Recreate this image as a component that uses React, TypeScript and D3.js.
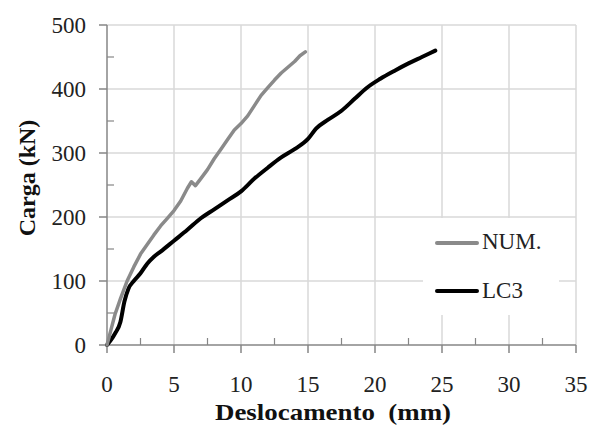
import React from "react";
import * as d3 from "d3";

const numX = [0, 0.3, 0.6, 1.0, 1.5, 2.0, 2.5, 3.0, 3.5, 4.0, 4.5, 5.0, 5.5, 6.0, 6.3, 6.6, 7.0, 7.5, 8.0, 8.5, 9.0, 9.5, 10.0, 10.5, 11.0, 11.5, 12.0, 12.5, 13.0, 13.5, 14.0, 14.4, 14.8];
const numY = [0, 24, 48, 72, 100, 122, 142, 157, 172, 186, 198, 210, 225, 245, 255, 249, 260, 274, 291, 306, 321, 336, 346, 358, 374, 390, 402, 414, 425, 434, 443, 452, 458];

const lc3X = [0, 0.3, 0.6, 1.0, 1.3, 1.6, 2.0, 2.5, 3.0, 3.5, 4.0, 5.0, 6.0, 7.0, 8.0, 9.0, 10.0, 11.0, 12.0, 13.0, 14.0, 15.0, 15.6, 16.5, 17.5, 18.5, 19.4, 20.4, 21.5, 22.5, 23.5, 24.5];
const lc3Y = [0, 8, 18, 36, 68, 88, 100, 112, 127, 138, 146, 163, 180, 198, 212, 226, 240, 260, 277, 293, 306, 322, 338, 352, 366, 385, 402, 416, 429, 440, 450, 460];

const xTicks = [0, 5, 10, 15, 20, 25, 30, 35];
const xMinor = [2.5, 7.5, 12.5, 17.5, 22.5, 27.5, 32.5];
const yTicks = [0, 100, 200, 300, 400, 500];
const yMinor = [50, 150, 250, 350, 450];

const seriesNames = ["NUM.", "LC3"];
const xTitle = "Deslocamento  (mm)";
const yTitle = "Carga (kN)";

export default function App() {
  const W = 593, H = 425;
  const left = 107, right = 576, top = 25, bottom = 345;
  const x = d3.scaleLinear().domain([0, 35]).range([left, right]);
  const y = d3.scaleLinear().domain([0, 500]).range([bottom, top]);

  const numPts: [number, number][] = numX.map((v, i) => [v, numY[i]]);
  const lc3Pts: [number, number][] = lc3X.map((v, i) => [v, lc3Y[i]]);
  const lineLin = d3.line<[number, number]>().x(d => x(d[0])).y(d => y(d[1]));
  const lineSmooth = d3.line<[number, number]>().x(d => x(d[0])).y(d => y(d[1])).curve(d3.curveMonotoneX);

  const grid = "#d9d9d9";
  const axis = "#868686";
  const font = "'Liberation Serif', 'Times New Roman', serif";
  const textColor = "#222";

  return (
    <svg width={W} height={H} style={{ position: "absolute", left: 0, top: 0, background: "#fff" }}>
      <rect x={0} y={0} width={W} height={H} fill="#fff" />
      {xTicks.slice(1).map(t => (
        <line key={"gx" + t} x1={x(t)} x2={x(t)} y1={top} y2={bottom} stroke={grid} strokeWidth={1.5} />
      ))}
      {yTicks.slice(1).map(t => (
        <line key={"gy" + t} x1={left} x2={right} y1={y(t)} y2={y(t)} stroke={grid} strokeWidth={1.5} />
      ))}
      {/* legend background */}
      <rect x={423} y={218} width={136} height={97} fill="#fff" />
      {/* axes */}
      <line x1={left} x2={left} y1={top} y2={bottom} stroke={axis} strokeWidth={1.5} />
      <line x1={left} x2={right} y1={bottom} y2={bottom} stroke={axis} strokeWidth={1.5} />
      {yTicks.map(t => (
        <line key={"ty" + t} x1={left - 8} x2={left} y1={y(t)} y2={y(t)} stroke={axis} strokeWidth={1.5} />
      ))}
      {yMinor.map(t => (
        <line key={"my" + t} x1={left} x2={left + 7} y1={y(t)} y2={y(t)} stroke={axis} strokeWidth={1.2} />
      ))}
      {xTicks.map(t => (
        <line key={"tx" + t} x1={x(t)} x2={x(t)} y1={bottom} y2={bottom + 8} stroke={axis} strokeWidth={1.5} />
      ))}
      {xMinor.map(t => (
        <line key={"mx" + t} x1={x(t)} x2={x(t)} y1={bottom - 7} y2={bottom} stroke={axis} strokeWidth={1.2} />
      ))}
      {/* tick labels */}
      {yTicks.map(t => (
        <text key={"ly" + t} x={86} y={y(t)} dy="0.35em" textAnchor="end" fontFamily={font} fontSize={23} fill={textColor}>{t}</text>
      ))}
      {xTicks.map(t => (
        <text key={"lx" + t} x={x(t)} y={392} textAnchor="middle" fontFamily={font} fontSize={23} fill={textColor}>{t}</text>
      ))}
      {/* titles */}
      <text x={333} y={420} textAnchor="middle" fontFamily={font} fontSize={24} fontWeight="bold" fill="#111" style={{ whiteSpace: "pre" }} textLength={236} lengthAdjust="spacingAndGlyphs">{xTitle}</text>
      <text transform="translate(35,178) rotate(-90)" textAnchor="middle" fontFamily={font} fontSize={24} fontWeight="bold" fill="#111">{yTitle}</text>
      {/* series */}
      <path d={lineSmooth(lc3Pts) || ""} fill="none" stroke="#000" strokeWidth={4} strokeLinejoin="round" strokeLinecap="round" />
      <path d={lineLin(numPts) || ""} fill="none" stroke="#8a8a8a" strokeWidth={3.5} strokeLinejoin="round" strokeLinecap="round" />
      {/* legend */}
      <line x1={437} x2={477} y1={243} y2={243} stroke="#8a8a8a" strokeWidth={4} strokeLinecap="round" />
      <text x={482} y={249} fontFamily={font} fontSize={23} fill={textColor}>{seriesNames[0]}</text>
      <line x1={437} x2={477} y1={291} y2={291} stroke="#000" strokeWidth={4} strokeLinecap="round" />
      <text x={482} y={298} fontFamily={font} fontSize={23} fill={textColor}>{seriesNames[1]}</text>
    </svg>
  );
}
